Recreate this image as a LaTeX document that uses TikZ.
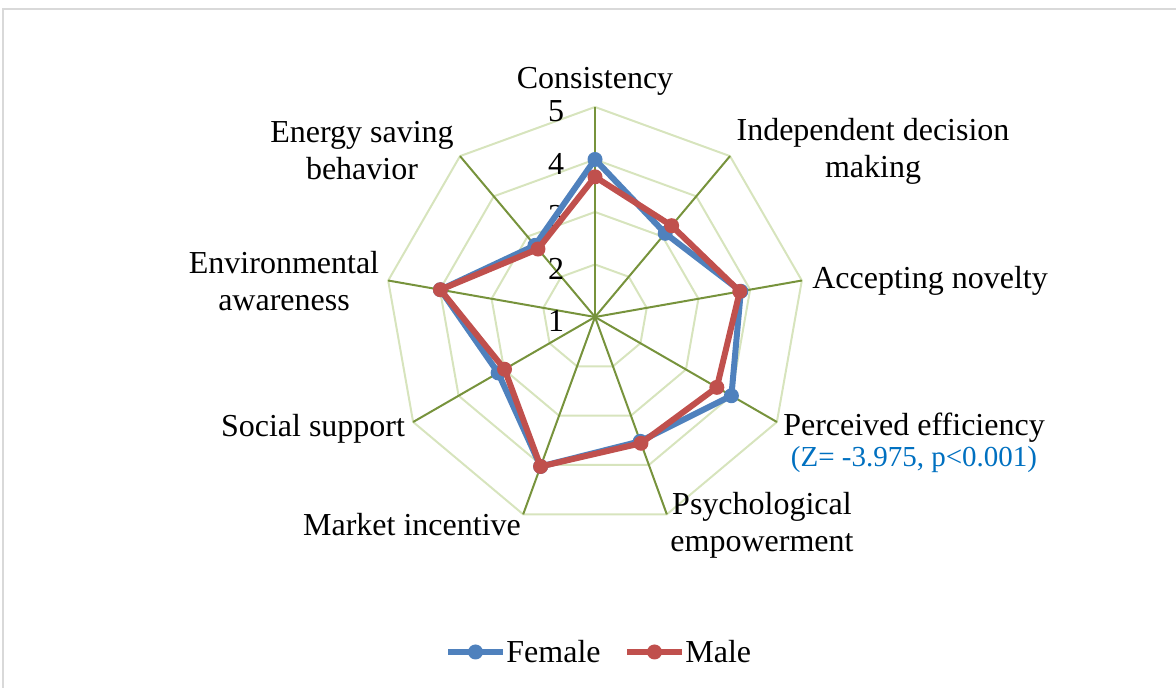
\documentclass[tikz,border=0pt]{standalone}
\usepackage{fontspec}
\setmainfont{Liberation Serif}
\usetikzlibrary{positioning,calc}

\definecolor{axisgreen}{HTML}{77933C}
\definecolor{gridgreen}{HTML}{D7E4BD}
\definecolor{femaleblue}{HTML}{4F81BD}
\definecolor{malered}{HTML}{C0504D}
\definecolor{zblue}{HTML}{0070C0}
\definecolor{framegray}{HTML}{D9D9D9}

\tikzset{
  lbl/.style={font=\fontsize{16}{18.5}\selectfont, align=center, inner sep=0pt},
  axisline/.style={axisgreen, line width=1pt},
  gridline/.style={gridgreen, line width=1pt},
  series/.style={line width=3pt, line join=round},
  dot/.style={circle, fill, inner sep=0pt, minimum size=7.5pt},
}

\begin{document}
\begin{tikzpicture}[x=0.5pt,y=0.5pt]
\useasboundingbox (0,0) rectangle (1176,688);
\draw[framegray, line width=1pt] (3,0) -- (3,679) -- (1176,679);
\coordinate (C) at (595,371);

\begin{scope}[shift={(C)}]
% rings and spokes
\foreach \r in {52.5,105,157.5,210}
  \draw[gridline] (90:\r) \foreach \a in {50,10,...,-230} { -- (\a:\r) } -- cycle;
\foreach \a in {90,50,...,-230}
  \draw[axisline] (0,0) -- (\a:210);

% scale
\foreach \n [count=\k from 0] in {1,2,3,4,5}
  \node[lbl] (s\n) at (-39,{52.5*\k-4}) {\n};

% axis labels
\node[lbl] (cons) at (0,236) {Consistency};
\node[lbl] (indep) at (278,166) {Independent decision\\making};
\node[lbl] (novel) at (335,36) {Accepting novelty};
\node[lbl] (perc) at (319,-111) {Perceived efficiency};
\node[lbl, font=\fontsize{14.5}{16}\selectfont, text=zblue, below=1.5pt of perc] (ztest) {(Z= -3.975, p<0.001)};
\node[lbl] (psych) at (167,-208) {Psychological\\empowerment};
\node[lbl] (market) at (-183,-208) {Market incentive};
\node[lbl] (social) at (-282,-112) {Social support};
\node[lbl] (env) at (-311,36) {Environmental\\awareness};
\node[lbl] (energy) at (-233,166) {Energy saving\\behavior};

% Female
\foreach \v [count=\i from 0] in {4.00,3.08,3.82,4.00,3.52,4.03,3.13,3.99,2.78}
  \coordinate (f\i) at ({90-40*\i}:{52.5*(\v-1)});
\draw[series, femaleblue] (f0) -- (f1) -- (f2) -- (f3) -- (f4) -- (f5) -- (f6) -- (f7) -- (f8) -- cycle;
\foreach \i in {0,...,8} \node[dot, femaleblue] (fd\i) at (f\i) {};

% Male
\foreach \v [count=\i from 0] in {3.67,3.27,3.80,3.68,3.56,4.03,2.99,3.99,2.69}
  \coordinate (m\i) at ({90-40*\i}:{52.5*(\v-1)});
\draw[series, malered] (m0) -- (m1) -- (m2) -- (m3) -- (m4) -- (m5) -- (m6) -- (m7) -- (m8) -- cycle;
\foreach \i in {0,...,8} \node[dot, malered] (md\i) at (m\i) {};
\end{scope}

% legend
\coordinate (lfa) at (448,36);
\coordinate (lfb) at (503,36);
\coordinate (lma) at (627,36);
\coordinate (lmb) at (682,36);
\draw[series, femaleblue] (lfa) -- (lfb);
\node[dot, femaleblue] (lfd) at ($(lfa)!0.5!(lfb)$) {};
\node[lbl, anchor=west] (lfem) at ([xshift=1.5pt]lfb) {Female};
\draw[series, malered] (lma) -- (lmb);
\node[dot, malered] (lmd) at ($(lma)!0.5!(lmb)$) {};
\node[lbl, anchor=west] (lmal) at ([xshift=1.5pt]lmb) {Male};
\end{tikzpicture}
\end{document}
